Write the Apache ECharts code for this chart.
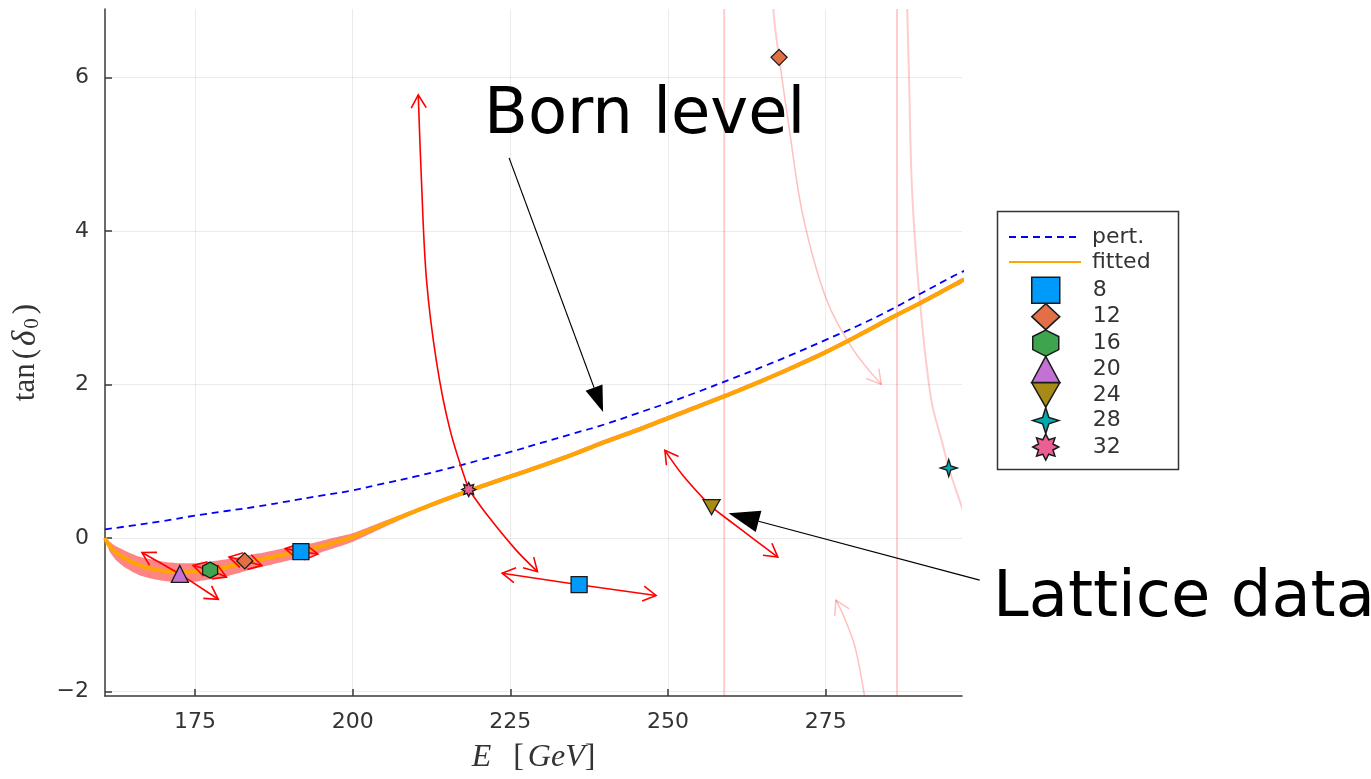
<!DOCTYPE html>
<html>
<head>
<meta charset="utf-8">
<title>tan(δ0) vs E</title>
<script src="https://cdn.jsdelivr.net/npm/echarts@6/dist/echarts.min.js"></script>
<style>
  html, body { margin: 0; padding: 0; background: #fff; }
  #chart { width: 1371px; height: 779px; }
</style>
</head>
<body>
<div id="chart"></div>
<script>
// axis ranges and tick labels
var xMin = 160.74, xMax = 296.6;
var yMin = -2.06, yMax = 6.89;
var xTicks = [175, 200, 225, 250, 275];
var yTicks = [-2, 0, 2, 4, 6];

// perturbative (Born level) curve
var pertX = [160.74, 165, 170, 175, 180, 185, 190, 195, 200, 205, 210, 215, 220, 225, 230,
             235, 240, 245, 250, 255, 260, 265, 270, 275, 280, 285, 290, 295, 297];
var pertY = [0.11, 0.16, 0.22, 0.29, 0.35, 0.41, 0.48, 0.55, 0.62, 0.71, 0.80, 0.90, 1.01, 1.12, 1.24,
             1.36, 1.48, 1.62, 1.76, 1.91, 2.07, 2.23, 2.40, 2.58, 2.76, 2.96, 3.18, 3.40, 3.48];

// fitted curve with its error band
var fitX = [160.74, 161.5, 162.5, 164, 166, 168, 170, 172.5, 175, 177.5, 180, 183, 186, 189, 192, 195, 198, 200,
            205, 210, 215, 220, 225, 230, 235, 240, 245, 250, 255, 260, 265, 270, 275, 280, 285, 290, 295, 297];
var fitY = [0.00, -0.11, -0.19, -0.27, -0.35, -0.40, -0.43, -0.45, -0.44, -0.42, -0.38, -0.32, -0.27, -0.22, -0.17, -0.11, -0.04, 0.01,
            0.18, 0.35, 0.51, 0.66, 0.80, 0.94, 1.09, 1.25, 1.40, 1.56, 1.72, 1.88, 2.05, 2.23, 2.42, 2.63, 2.85, 3.06, 3.28, 3.37];
var bandLo = [-0.01, -0.18, -0.29, -0.39, -0.48, -0.53, -0.56, -0.58, -0.57, -0.54, -0.50, -0.43, -0.37, -0.31, -0.26, -0.19, -0.11, -0.05,
              0.14, 0.32, 0.48, 0.63, 0.77, 0.91, 1.06, 1.22, 1.37, 1.53, 1.69, 1.85, 2.02, 2.20, 2.39, 2.60, 2.82, 3.03, 3.25, 3.34];
var bandHi = [0.01, -0.05, -0.11, -0.17, -0.24, -0.28, -0.31, -0.33, -0.33, -0.31, -0.28, -0.23, -0.19, -0.14, -0.10, -0.04, 0.02, 0.06,
              0.22, 0.38, 0.54, 0.69, 0.83, 0.97, 1.12, 1.28, 1.43, 1.59, 1.75, 1.91, 2.08, 2.26, 2.45, 2.66, 2.88, 3.09, 3.31, 3.40];

// lattice data, one list per volume
var pts8 = [[191.8, -0.18], [235.9, -0.61]];
var pts12 = [[182.9, -0.30], [267.6, 6.26]];
var pts16 = [[177.4, -0.42]];
var pts20 = [[172.6, -0.47]];
var pts24 = [[256.9, 0.40]];
var pts28 = [[294.5, 0.91]];
var pts32 = [[218.4, 0.63]];

// red flow arrows (each path ends at its arrow tip)
var flowMain = [
  [[218.4, 0.63], [215.4, 1.42], [213.3, 2.29], [211.7, 3.37], [210.9, 4.67], [210.4, 5.77]],
  [[218.4, 0.63], [221.4, 0.29], [225.7, -0.14], [229.3, -0.44]],
  [[235.9, -0.61], [223.7, -0.46]],
  [[235.9, -0.61], [248.1, -0.75]],
  [[256.9, 0.40], [252.4, 0.81], [249.5, 1.14]],
  [[256.9, 0.40], [261.4, 0.12], [267.4, -0.25]],
  [[172.6, -0.47], [166.6, -0.19]],
  [[172.6, -0.47], [178.7, -0.80]],
  [[177.4, -0.42], [174.7, -0.36]],
  [[177.4, -0.42], [180.0, -0.51]],
  [[182.9, -0.30], [180.4, -0.25]],
  [[182.9, -0.30], [185.6, -0.36]],
  [[191.8, -0.18], [189.3, -0.14]],
  [[191.8, -0.18], [194.5, -0.21]]
];
// faint flow arrows
var flowFaint = [
  [[267.6, 6.26], [269.3, 5.28], [271.4, 4.19], [275.1, 3.11], [279.3, 2.46], [283.8, 2.00]],
  [[281.6, -2.3], [279.7, -1.44], [277.8, -1.01], [276.6, -0.81]]
];
// faint paths without a visible tip
var faintOpen = [
  [[267.6, 6.26], [266.9, 6.7], [266.6, 7.0]],
  [[287.9, 6.95], [288.2, 6.0], [288.7, 4.5], [289.9, 3.11], [291.7, 1.81], [293.6, 1.20], [294.5, 0.91], [296.5, 0.42], [297.6, 0.15]],
  [[258.9, -2.3], [258.9, 7.0]],
  [[286.3, -2.3], [286.3, 7.0]]
];
// annotation pointers: from label to target
var annoArrows = [
  [[224.8, 4.95], [239.7, 1.64]],
  [[299.4, -0.55], [259.6, 0.32]]
];

function zip(xs, ys) {
  return xs.map(function (x, i) { return [x, ys[i]]; });
}

function star8Path() {
  var s = 'path://';
  for (var i = 0; i < 16; i++) {
    var r = i % 2 === 0 ? 50 : 30;
    var a = Math.PI * i / 8 - Math.PI / 2;
    s += (i === 0 ? 'M' : 'L') + (50 + r * Math.cos(a)).toFixed(2) + ',' + (50 + r * Math.sin(a)).toFixed(2) + ' ';
  }
  return s + 'Z';
}
var symHex = 'path://M50,0 L100,25 L100,75 L50,100 L0,75 L0,25 Z';
var symStar4 = 'path://M50,0 L62,38 L100,50 L62,62 L50,100 L38,62 L0,50 L38,38 Z';
var symDown = 'path://M0,0 L100,0 L50,87 Z';
var symStar8 = star8Path();

function flowRender(paths, color, width, headLen, withHead) {
  return function (params, api) {
    var pts = paths[params.dataIndex].map(function (p) { return api.coord(p); });
    var children = [{
      type: 'polyline',
      shape: { points: pts, smooth: pts.length > 2 ? 0.35 : 0 },
      style: { stroke: color, lineWidth: width, fill: null }
    }];
    if (withHead) {
      var a = pts[pts.length - 2], b = pts[pts.length - 1];
      var ang = Math.atan2(b[1] - a[1], b[0] - a[0]);
      var d = Math.PI / 6;
      children.push({
        type: 'polyline',
        shape: { points: [
          [b[0] - headLen * Math.cos(ang - d), b[1] - headLen * Math.sin(ang - d)],
          b,
          [b[0] - headLen * Math.cos(ang + d), b[1] - headLen * Math.sin(ang + d)]
        ] },
        style: { stroke: color, lineWidth: width, fill: null }
      });
    }
    return { type: 'group', children: children };
  };
}

function annoRender(params, api) {
  var p = annoArrows[params.dataIndex].map(function (q) { return api.coord(q); });
  var a = p[0], b = p[1];
  var ang = Math.atan2(b[1] - a[1], b[0] - a[0]);
  var len = params.dataIndex === 0 ? 26 : 31, hw = params.dataIndex === 0 ? 9 : 11;
  var bx = b[0] - len * Math.cos(ang), by = b[1] - len * Math.sin(ang);
  var nx = -Math.sin(ang) * hw, ny = Math.cos(ang) * hw;
  return {
    type: 'group',
    children: [
      { type: 'line', shape: { x1: a[0], y1: a[1], x2: bx, y2: by }, style: { stroke: '#000', lineWidth: 1.2 } },
      { type: 'polygon', shape: { points: [b, [bx + nx, by + ny], [bx - nx, by - ny]] }, style: { fill: '#000' } }
    ]
  };
}

function bandRender(params, api) {
  var pts = [];
  for (var i = 0; i < fitX.length; i++) pts.push(api.coord([fitX[i], bandLo[i]]));
  for (var j = fitX.length - 1; j >= 0; j--) pts.push(api.coord([fitX[j], bandHi[j]]));
  return { type: 'polygon', shape: { points: pts, smooth: 0.2 }, style: { fill: 'rgba(255,85,85,0.72)' } };
}

function markerSeries(name, data, symbol, size, color) {
  return {
    name: name, type: 'scatter', data: data, symbol: symbol, symbolSize: size, z: 6,
    itemStyle: { color: color, borderColor: '#1a1a1a', borderWidth: 1.3, opacity: 1 }
  };
}

var chart = echarts.init(document.getElementById('chart'));
var serif = 'Liberation Serif';
var option = {
  animation: false,
  backgroundColor: '#fff',
  grid: { left: 105, right: 409, top: 9, bottom: 81 },
  xAxis: {
    type: 'value', min: xMin, max: xMax,
    name: '{i|E}{b|[}{g|GeV}{n|]}', nameLocation: 'middle', nameGap: 46,
    nameTextStyle: { rich: {
      i: { fontFamily: serif, fontStyle: 'italic', fontSize: 32, color: '#333' },
      g: { fontFamily: serif, fontStyle: 'italic', fontSize: 32, color: '#333', padding: [0, 0, 0, 4] },
      b: { fontFamily: serif, fontSize: 32, color: '#333', padding: [0, 0, 0, 22] },
      n: { fontFamily: serif, fontSize: 32, color: '#333' }
    } },
    axisLine: { show: true, onZero: false, lineStyle: { color: '#3a3a3a', width: 1.5 } },
    axisTick: { show: true, inside: true, length: 7, customValues: xTicks, lineStyle: { color: '#3a3a3a', width: 1.5 } },
    axisLabel: { customValues: xTicks, fontSize: 22, color: '#333', margin: 15, fontFamily: 'DejaVu Sans' },
    splitLine: { show: true, lineStyle: { color: 'rgba(0,0,0,0.08)', width: 1 } }
  },
  yAxis: {
    type: 'value', min: yMin, max: yMax,
    name: '{n|tan}{p|(}{i|δ}{s|0}{q|)}', nameLocation: 'middle', nameGap: 62,
    nameTextStyle: { rich: {
      n: { fontFamily: serif, fontSize: 31, color: '#333', lineHeight: 34 },
      p: { fontFamily: serif, fontSize: 31, color: '#333', lineHeight: 34, padding: [0, 3, 0, 4] },
      q: { fontFamily: serif, fontSize: 31, color: '#333', lineHeight: 34, padding: [0, 0, 0, 4] },
      i: { fontFamily: serif, fontStyle: 'italic', fontSize: 33, color: '#333', lineHeight: 34 },
      s: { fontFamily: serif, fontSize: 21, color: '#333', lineHeight: 20, verticalAlign: 'bottom', padding: [0, 0, 0, 2] }
    } },
    axisLine: { show: true, onZero: false, lineStyle: { color: '#3a3a3a', width: 1.5 } },
    axisTick: { show: true, inside: true, length: 7, customValues: yTicks, lineStyle: { color: '#3a3a3a', width: 1.5 } },
    axisLabel: {
      customValues: yTicks, fontSize: 22, color: '#333', margin: 16, fontFamily: 'DejaVu Sans',
      formatter: function (v) { return String(v).replace('-', '\u2212'); }
    },
    splitLine: { show: true, lineStyle: { color: 'rgba(0,0,0,0.08)', width: 1 } }
  },
  legend: [
    {
      orient: 'vertical', left: 1008, top: 226, padding: 0,
      itemWidth: 72, itemHeight: 14, itemGap: 3,
      data: [
        { name: 'pert.', itemStyle: { opacity: 0 } },
        { name: 'fitted', itemStyle: { opacity: 0 }, lineStyle: { width: 2 } }
      ],
      textStyle: { fontSize: 22, color: '#333', fontFamily: 'DejaVu Sans', padding: [0, 0, 0, 6] }
    },
    {
      orient: 'vertical', left: 1031, top: 276.5, padding: 0,
      itemWidth: 28, itemHeight: 26, itemGap: -1.1,
      data: ['8', '12', '16', '20', '24', '28', '32'],
      itemStyle: { borderColor: '#1a1a1a', borderWidth: 1.5 },
      textStyle: { fontSize: 22, color: '#333', fontFamily: 'DejaVu Sans', padding: [0, 0, 0, 28] }
    }
  ],
  graphic: [
    { type: 'rect', z: 1, shape: { x: 997.5, y: 211.5, width: 181, height: 258 },
      style: { fill: '#fff', stroke: '#333', lineWidth: 1.5 } },
    { type: 'text', z: 10, x: 484, y: 116,
      style: { text: 'Born level', font: '64px "DejaVu Sans"', fill: '#000', verticalAlign: 'middle' } },
    { type: 'text', z: 10, x: 993, y: 599,
      style: { text: 'Lattice data', font: '64px "DejaVu Sans"', fill: '#000', verticalAlign: 'middle' } }
  ],
  series: [
    {
      type: 'custom', z: 1, silent: true, clip: true,
      data: [[fitX[0], fitY[0]]], renderItem: bandRender
    },
    {
      type: 'custom', z: 2, silent: true, clip: true,
      data: faintOpen.map(function (p) { return p[0]; }),
      renderItem: flowRender(faintOpen, 'rgba(255,0,0,0.2)', 2, 0, false)
    },
    {
      type: 'custom', z: 2, silent: true, clip: true,
      data: flowFaint.map(function (p) { return p[0]; }),
      renderItem: flowRender(flowFaint, 'rgba(255,0,0,0.25)', 1.5, 16, true)
    },
    {
      name: 'pert.', type: 'line', z: 3, data: zip(pertX, pertY), symbol: 'none', smooth: true,
      color: '#0000ff', lineStyle: { color: '#0000ff', width: 1.8, type: [7, 5] }
    },
    {
      name: 'fitted', type: 'line', z: 3, data: zip(fitX, fitY), symbol: 'none', smooth: true,
      color: '#ffa500', lineStyle: { color: '#ffa500', width: 4 }
    },
    {
      type: 'custom', z: 4, silent: true, clip: true,
      data: flowMain.map(function (p) { return p[0]; }),
      renderItem: flowRender(flowMain, '#ff0000', 1.6, 15, true)
    },
    markerSeries('8', pts8, 'rect', 16, '#009afa'),
    markerSeries('12', pts12, 'diamond', 16, '#e36f47'),
    markerSeries('16', pts16, symHex, [15, 16], '#3ea44e'),
    markerSeries('20', pts20, 'triangle', 17, '#c371d2'),
    markerSeries('24', pts24, symDown, [17, 15], '#a88a16'),
    markerSeries('28', pts28, symStar4, 17, '#00a9ad'),
    markerSeries('32', pts32, symStar8, 14, '#ed5e93'),
    {
      type: 'custom', z: 8, silent: true, clip: false,
      data: annoArrows.map(function (p) { return p[0]; }),
      renderItem: annoRender
    }
  ]
};
chart.setOption(option);
</script>
</body>
</html>
